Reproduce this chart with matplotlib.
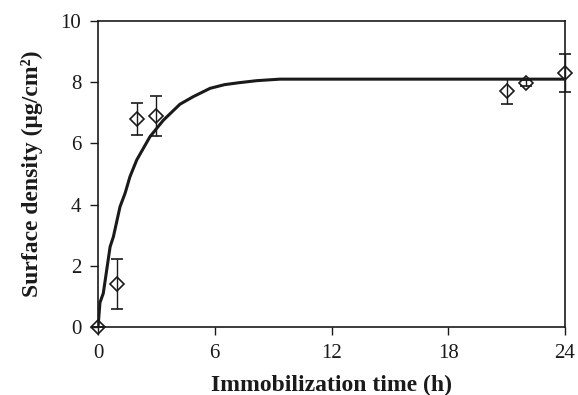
import matplotlib
matplotlib.use("Agg")
import matplotlib.pyplot as plt

# measured points
t_meas = [0, 1, 2, 3, 21, 22, 24]
y_meas = [0, 1.4, 6.8, 6.9, 7.7, 7.97, 8.3]
y_err = [0, 0.82, 0.52, 0.66, 0.42, 0.1, 0.62]

# fitted curve
t_fit = [0, 0.1, 0.27, 0.62, 0.79, 1.13, 1.39, 1.64, 1.99, 2.67, 3.36,
         4.21, 4.9, 5.76, 6.5, 7.2, 8.15, 9.35, 12, 18, 24]
y_fit = [0, 0.8, 1.1, 2.62, 2.95, 3.93, 4.37, 4.91, 5.46, 6.22, 6.76,
         7.28, 7.53, 7.8, 7.92, 7.98, 8.05, 8.1, 8.1, 8.1, 8.1]

plt.rcParams['font.family'] = ['Liberation Serif', 'DejaVu Serif']

fig = plt.figure(figsize=(5.78, 3.95), dpi=100)
ax = fig.add_axes([0.1696, 0.1722, 0.8079, 0.7746])

ax.plot(t_fit, y_fit, color='#1a1a1a', linewidth=2.2)
ax.errorbar(t_meas, y_meas, yerr=y_err, fmt='D', color='#1a1a1a',
            mfc='none', markersize=7.5, markeredgewidth=1.2,
            elinewidth=1.0, capsize=4, capthick=1.0, clip_on=False,
            zorder=3)

ax.set_xlim(0, 24)
ax.set_ylim(0, 10)
ax.set_xticks([0, 6, 12, 18, 24])
ax.set_yticks([0, 2, 4, 6, 8, 10])
ax.tick_params(direction='out', length=6, width=1.0, labelsize=15,
               colors='#1a1a1a', pad=6)
for s in ax.spines.values():
    s.set_linewidth(1.2)
    s.set_color('#1a1a1a')

ax.set_xlabel("Immobilization time (h)", fontsize=17, fontweight='bold',
              color='#1a1a1a', labelpad=8.5)
ax.set_ylabel("Surface density (\u03bcg/cm\u00b2)", fontsize=17,
              fontweight='bold', color='#1a1a1a', labelpad=13)

fig.savefig("out.png", dpi=100)
